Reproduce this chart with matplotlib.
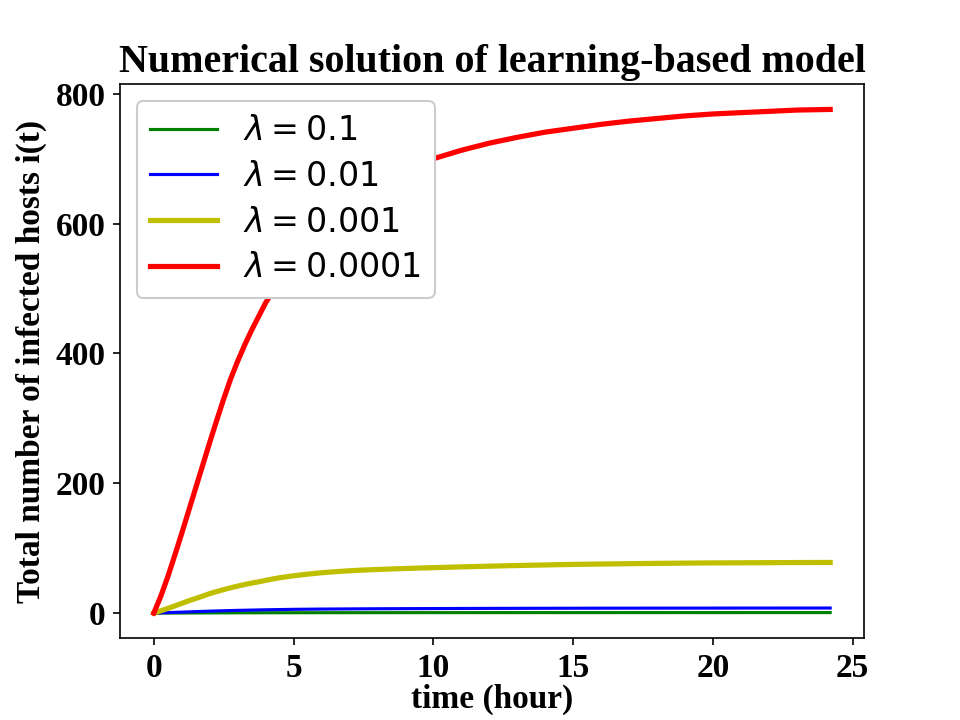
import matplotlib
matplotlib.use('Agg')
import matplotlib.pyplot as plt

plt.rcParams['font.size'] = 16

# time grid (hours) and read-off values
t_fine = [0, 0.25, 0.5, 0.75, 1, 1.25, 1.5, 1.75, 2, 2.25, 2.5, 2.75, 3, 3.25, 3.5, 3.75,
          4, 4.5, 5, 5.5, 6, 6.5, 7, 7.5, 8, 8.5, 9, 9.5, 10,
          11, 12, 13, 14, 15, 16, 17, 18, 19, 20, 21, 22, 23, 24.2]

i_red = [0, 26, 56, 89, 123, 158, 193, 228, 263, 297, 330, 361, 388, 413, 436, 457,
         478, 513, 545, 572, 595, 616, 634, 649, 662, 674, 684, 693, 700,
         713, 724, 733, 741, 747, 753, 758, 762, 766, 769, 771, 773, 775, 776]
i_yellow = [0, 3.5, 7.2, 11, 15, 19, 22.5, 26.2, 30, 33.2, 36.2, 39, 41.6, 44, 46.2, 48.2,
            50.5, 54.5, 57.5, 60, 62.2, 63.8, 65.2, 66.3, 67.2, 68, 68.7, 69.4, 70,
            71.2, 72.3, 73.3, 74.2, 75, 75.6, 76.1, 76.6, 77, 77.3, 77.5, 77.7, 77.9, 78]

t_coarse = [0, 1, 2, 3, 4, 5, 6, 8, 10, 12, 15, 18, 21, 24.2]
i_blue = [0, 1.5, 3.0, 4.2, 5.1, 5.8, 6.2, 6.7, 7.0, 7.25, 7.5, 7.65, 7.75, 7.8]
i_green = [0, 0.15, 0.3, 0.42, 0.51, 0.58, 0.62, 0.67, 0.7, 0.72, 0.75, 0.76, 0.77, 0.78]

labels = [r'$\lambda=0.1$', r'$\lambda=0.01$', r'$\lambda=0.001$', r'$\lambda=0.0001$']

fig, ax = plt.subplots(figsize=(6.4, 4.8), dpi=150)
fig.subplots_adjust(top=0.883, bottom=0.1135)

ax.plot(t_coarse, i_green, color='g', lw=1.5, label=labels[0])
ax.plot(t_coarse, i_blue, color='b', lw=1.5, label=labels[1])
ax.plot(t_fine, i_yellow, color='y', lw=2.5, label=labels[2])
ax.plot(t_fine, i_red, color='r', lw=2.5, label=labels[3])

serif = {'family': 'Liberation Serif', 'weight': 'bold'}
ax.set_title('Numerical solution of learning-based model', fontdict=dict(serif, size=19.2))
ax.set_xlabel('time (hour)', fontdict=dict(serif, size=16), labelpad=0)
ax.set_ylabel('Total number of infected hosts i(t)', fontdict=dict(serif, size=16))

ax.tick_params(labelsize=16)
for lab in ax.get_xticklabels() + ax.get_yticklabels():
    lab.set_fontfamily('Liberation Serif')
    lab.set_fontweight('bold')

ax.legend(loc='upper left', fontsize=16, framealpha=1, labelspacing=0.38)

plt.savefig('out.png', dpi=150)
